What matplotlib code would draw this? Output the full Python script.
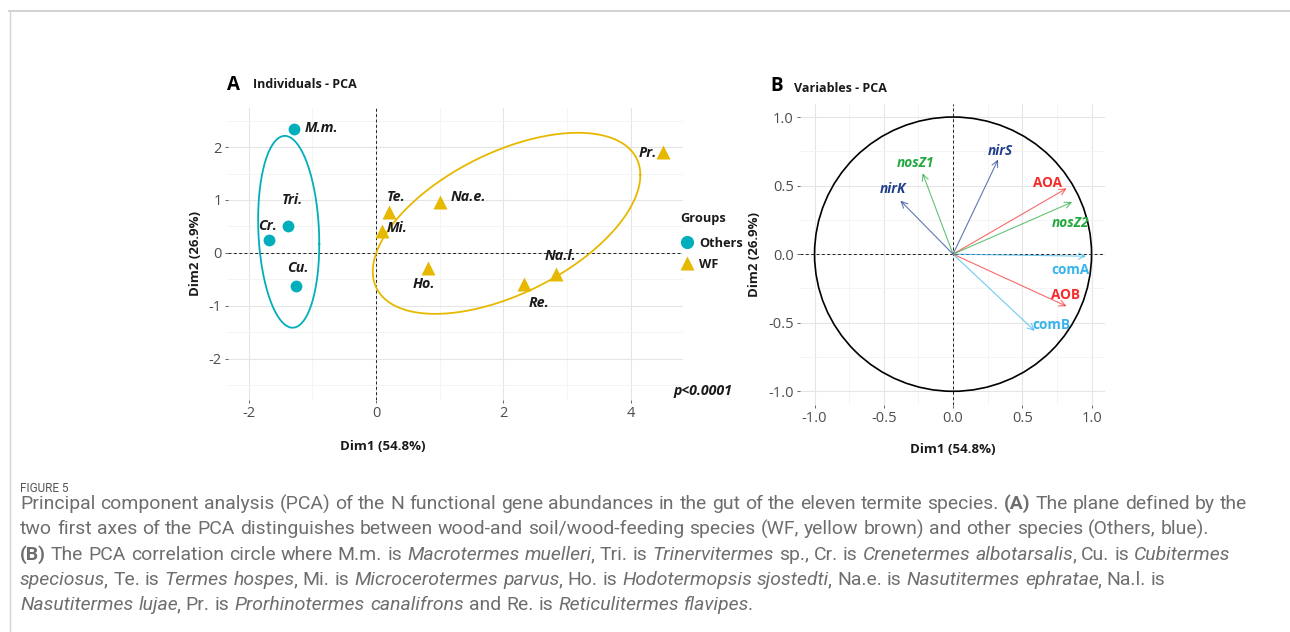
import matplotlib
matplotlib.use('Agg')
import matplotlib.pyplot as plt
import numpy as np
from matplotlib.lines import Line2D
from matplotlib.patches import Circle
from matplotlib import font_manager

# ---------------- data ----------------
ind_names = ['M.m.', 'Tri.', 'Cr.', 'Cu.', 'Te.', 'Mi.', 'Na.e.', 'Ho.', 'Re.', 'Na.l.', 'Pr.']
ind_groups = ['Others', 'Others', 'Others', 'Others', 'WF', 'WF', 'WF', 'WF', 'WF', 'WF', 'WF']
ind_dim1 = [-1.29, -1.38, -1.68, -1.26, 0.20, 0.09, 1.00, 0.82, 2.32, 2.83, 4.51]
ind_dim2 = [2.34, 0.51, 0.25, -0.62, 0.77, 0.42, 0.96, -0.28, -0.58, -0.40, 1.91]

group_names = ['Others', 'WF']
# ellipse: centre (x, y), x half-extent, y coupling, y independent part
ell_cx = [-1.37, 2.05]
ell_cy = [0.40, 0.56]
ell_a = [0.48, 2.10]
ell_b = [-0.23, 0.91]
ell_c = [1.795, 1.446]

var_names = ['nirS', 'nosZ1', 'nirK', 'AOA', 'nosZ2', 'comA', 'AOB', 'comB']
var_dim1 = [0.325, -0.22, -0.38, 0.82, 0.86, 0.96, 0.82, 0.59]
var_dim2 = [0.69, 0.59, 0.39, 0.48, 0.38, -0.015, -0.38, -0.56]

xticks_A = [-2, 0, 2, 4]
yticks_A = [-2, -1, 0, 1, 2]
ticks_B = [-1.0, -0.5, 0.0, 0.5, 1.0]

# ---------------- styles ----------------
plt.rcParams['font.family'] = ['Open Sans', 'DejaVu Sans']
plt.rcParams['axes.unicode_minus'] = False

W, H = 1290, 632
fig = plt.figure(figsize=(W / 100, H / 100), dpi=100)
fig.patch.set_facecolor('white')


def fx(px):
    return px / W


def fy(py):
    return 1 - py / H


# frame lines
fig.add_artist(Line2D([fx(9), 1.0], [fy(10.5), fy(10.5)], transform=fig.transFigure,
                      color='#d3d3d3', lw=1.4))
fig.add_artist(Line2D([fx(9.5), fx(9.5)], [fy(10.5), 0.0], transform=fig.transFigure,
                      color='#d3d3d3', lw=1.0))

group_colors = {'Others': '#00AFBB', 'WF': '#E7B800'}
group_markers = {'Others': 'o', 'WF': '^'}
group_ms = {'Others': 8.5, 'WF': 9.5}
tick_col = '#4d4d4d'


def style_axes(ax):
    for s in ax.spines.values():
        s.set_visible(False)
    ax.set_axisbelow(True)
    ax.grid(which='major', color='#e5e5e5', lw=0.8)
    ax.grid(which='minor', color='#f2f2f2', lw=0.6)
    ax.tick_params(which='major', length=2.5, width=0.6, color=tick_col,
                   labelcolor=tick_col, labelsize=10.5, pad=2)
    ax.tick_params(which='minor', length=0)


# ---------------- panel A ----------------
axA = fig.add_axes([fx(228), fy(400), (683 - 228) / W, (400 - 108) / H])
style_axes(axA)
axA.set_xlim(-2.323, 4.82)
axA.set_ylim(-2.774, 2.736)
axA.set_xticks(xticks_A)
axA.set_xticks([-1, 1, 3], minor=True)
axA.set_yticks(yticks_A)
axA.set_yticks([-2.5, -1.5, -0.5, 0.5, 1.5, 2.5], minor=True)
axA.axhline(0, color='#222222', lw=0.7, ls=(0, (3, 2.5)))
axA.axvline(0, color='#222222', lw=0.7, ls=(0, (3, 2.5)))

t = np.linspace(0, 2 * np.pi, 300)
for g, cx, cy, a, b, c in zip(group_names, ell_cx, ell_cy, ell_a, ell_b, ell_c):
    axA.plot(cx + a * np.cos(t), cy + b * np.cos(t) + c * np.sin(t),
             color=group_colors[g], lw=1.3)

for g in group_names:
    xs = [x for x, gg in zip(ind_dim1, ind_groups) if gg == g]
    ys = [y for y, gg in zip(ind_dim2, ind_groups) if gg == g]
    axA.plot(xs, ys, ls='none', marker=group_markers[g], ms=group_ms[g],
             color=group_colors[g], mec='none', zorder=4)

label_off_A = {'M.m.': (28, 1), 'Tri.': (4, 26), 'Cr.': (-1, 14), 'Cu.': (2, 18),
               'Te.': (7, 15), 'Mi.': (15, 3), 'Na.e.': (29, 5), 'Ho.': (-4, -16),
               'Re.': (15, -19), 'Na.l.': (4, 18), 'Pr.': (-15, -1)}
for n, x, y in zip(ind_names, ind_dim1, ind_dim2):
    axA.annotate(n, (x, y), xytext=label_off_A[n], textcoords='offset pixels',
                 ha='center', va='center', fontsize=10.3, fontweight='bold',
                 fontstyle='italic', color='#1a1a1a', zorder=5)

axA.set_ylabel('Dim2 (26.9%)', fontsize=9.5, fontweight='bold', color='#1a1a1a', labelpad=5)
fig.text(fx(383), fy(446), 'Dim1 (54.8%)', fontsize=9.5, fontweight='bold', color='#1a1a1a',
         ha='center', va='center')

fig.text(fx(227), fy(85), 'A', fontsize=13.5, fontweight='bold', color='black',
         ha='left', va='center')
fig.text(fx(253), fy(85), 'Individuals - PCA', fontsize=9, fontweight='bold',
         color='#1a1a1a', ha='left', va='center')

fig.text(fx(703), fy(391), 'p<0.0001', fontsize=10.2, fontweight='bold', fontstyle='italic',
         color='#1a1a1a', ha='center', va='center')

# legend
fig.text(fx(680), fy(218), 'Groups', fontsize=9.2, fontweight='bold', color='#1a1a1a',
         ha='left', va='center')
for g, py in zip(group_names, [242, 263]):
    fig.add_artist(Line2D([fx(687)], [fy(py)], transform=fig.transFigure, ls='none',
                          marker=group_markers[g], ms=group_ms[g] + 1, color=group_colors[g],
                          mec='none'))
    fig.text(fx(699), fy(py + 1), g, fontsize=9.2, fontweight='bold', color='#1a1a1a',
             ha='left', va='center')

# ---------------- panel B ----------------
axB = fig.add_axes([fx(800), fy(405), 305 / W, 301 / H])
style_axes(axB)
axB.set_xlim(-1.105, 1.097)
axB.set_ylim(-1.10, 1.095)
axB.set_xticks(ticks_B)
axB.set_xticklabels([f'{v:.1f}' for v in ticks_B])
axB.set_xticks([-0.75, -0.25, 0.25, 0.75], minor=True)
axB.set_yticks(ticks_B)
axB.set_yticklabels([f'{v:.1f}' for v in ticks_B])
axB.set_yticks([-0.75, -0.25, 0.25, 0.75], minor=True)
axB.axhline(0, color='#222222', lw=0.7, ls=(0, (3, 2.5)))
axB.axvline(0, color='#222222', lw=0.7, ls=(0, (3, 2.5)))
axB.add_patch(Circle((0, 0), 1.0, fill=False, ec='black', lw=1.2))

var_colors = {'nirS': '#1F3F8C', 'nirK': '#1F3F8C', 'nosZ1': '#22A83E', 'nosZ2': '#22A83E',
              'AOA': '#F52A2A', 'AOB': '#F52A2A', 'comA': '#36B4EC', 'comB': '#36B4EC'}
var_italic = {'nirS': True, 'nirK': True, 'nosZ1': True, 'nosZ2': True,
              'AOA': False, 'AOB': False, 'comA': False, 'comB': False}
label_off_B = {'nirS': (2, 9), 'nosZ1': (-7, 10), 'nirK': (-7, 12), 'AOA': (-19, 5),
               'nosZ2': (-2, -21), 'comA': (-16, -14), 'AOB': (-1, 11), 'comB': (17, 6)}
for n, x, y in zip(var_names, var_dim1, var_dim2):
    col = var_colors[n]
    axB.annotate('', xy=(x, y), xytext=(0, 0),
                 arrowprops=dict(arrowstyle='->,head_length=0.45,head_width=0.22',
                                 color=col, lw=0.8, alpha=0.7, shrinkA=0, shrinkB=0))
    axB.annotate(n, (x, y), xytext=label_off_B[n], textcoords='offset pixels',
                 ha='center', va='center', fontsize=9.8, fontweight='bold',
                 fontstyle='italic' if var_italic[n] else 'normal', color=col)

axB.set_xlabel('Dim1 (54.8%)', fontsize=9.5, fontweight='bold', color='#1a1a1a', labelpad=12)
axB.set_ylabel('Dim2 (26.9%)', fontsize=9.5, fontweight='bold', color='#1a1a1a', labelpad=5)

fig.text(fx(770), fy(86), 'B', fontsize=13.5, fontweight='bold', color='black',
         ha='left', va='center')
fig.text(fx(794), fy(89), 'Variables - PCA', fontsize=9, fontweight='bold',
         color='#1a1a1a', ha='left', va='center')

# ---------------- caption ----------------
def has_font(name):
    try:
        font_manager.findfont(font_manager.FontProperties(family=name), fallback_to_default=False)
        return True
    except Exception:
        return False


if has_font('Liberation Sans Narrow'):
    cap_family = 'Liberation Sans Narrow'
elif has_font('Roboto'):
    cap_family = 'Roboto'
else:
    cap_family = 'DejaVu Sans'
cap_weight = 'normal'
cap_color = '#6e6e6e'
renderer = fig.canvas.get_renderer()

N_ = 'normal'
I_ = 'italic'
B_ = 'bold'
cap_lines = [
    [('Principal component analysis (PCA) of the N functional gene abundances in the gut of the eleven termite species. ', N_),
     ('(A)', B_), (' The plane defined by the', N_)],
    [('two first axes of the PCA distinguishes between wood-and soil/wood-feeding species (WF, yellow brown) and other species (Others, blue).', N_)],
    [('(B)', B_), (' The PCA correlation circle where M.m. is ', N_), ('Macrotermes muelleri', I_),
     (', Tri. is ', N_), ('Trinervitermes', I_), (' sp., Cr. is ', N_), ('Crenetermes albotarsalis', I_),
     (', Cu. is ', N_), ('Cubitermes', I_)],
    [('speciosus', I_), (', Te. is ', N_), ('Termes hospes', I_), (', Mi. is ', N_),
     ('Microcerotermes parvus', I_), (', Ho. is ', N_), ('Hodotermopsis sjostedti', I_),
     (', Na.e. is ', N_), ('Nasutitermes ephratae', I_), (', Na.l. is', N_)],
    [('Nasutitermes lujae', I_), (', Pr. is ', N_), ('Prorhinotermes canalifrons', I_),
     (' and Re. is ', N_), ('Reticulitermes flavipes', I_), ('.', N_)],
]
cap_y = [504, 529, 555, 580, 605]


def draw_runs(runs, x0, py, size, draw=True):
    x = x0
    made = []
    sp = fig.text(0, 0, 'a a', fontsize=size, family=cap_family, weight=cap_weight)
    sp2 = fig.text(0, 0, 'aa', fontsize=size, family=cap_family, weight=cap_weight)
    space_w = sp.get_window_extent(renderer).width - sp2.get_window_extent(renderer).width
    sp.remove()
    sp2.remove()
    prev_italic = False
    for text, st in runs:
        words = text.split(' ')
        for i, w in enumerate(words):
            if i > 0:
                x += space_w
            if w == '':
                continue
            if prev_italic and st != I_ and i == 0:
                x -= 1.5
            kw = dict(fontsize=size, family=cap_family, color=cap_color, ha='left', va='center')
            kw['weight'] = 'bold' if st == B_ else cap_weight
            if st == I_:
                kw['style'] = 'italic'
            tt = fig.text(fx(x), fy(py), w, **kw)
            x += tt.get_window_extent(renderer).width + 0.3
            made.append(tt)
        prev_italic = (st == I_)
    if not draw:
        for m in made:
            m.remove()
    return x


# fit caption size so that line 1 spans the same width as the reference
size = 12.0
end = draw_runs(cap_lines[0], 20, cap_y[0], size, draw=False)
size = size * (1248 - 20) / (end - 20)
for runs, py in zip(cap_lines, cap_y):
    draw_runs(runs, 20, py, size)

fig.text(fx(20), fy(488), 'FIGURE 5', fontsize=8.5, family=cap_family, weight='normal',
         color='#555555', ha='left', va='center')

fig.savefig('out.png', dpi=100, facecolor='white')
